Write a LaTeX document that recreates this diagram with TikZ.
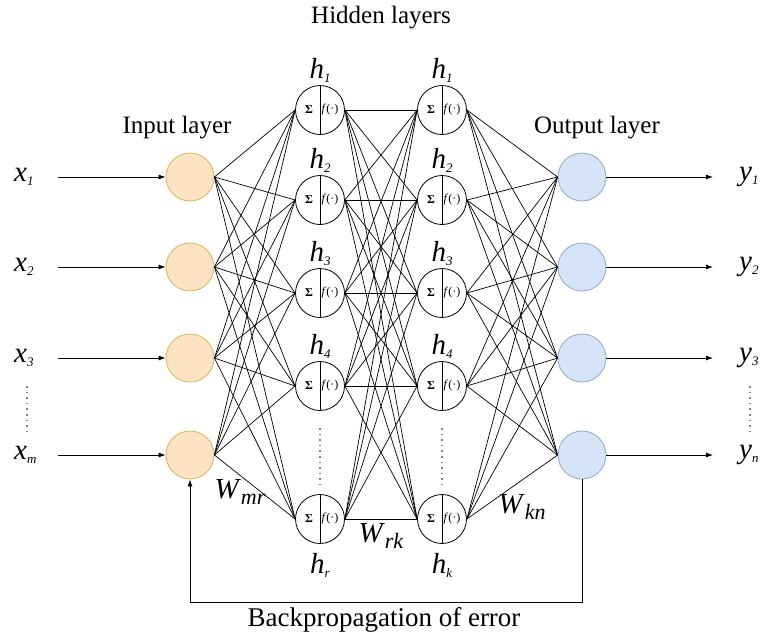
\documentclass[tikz,border=0pt]{standalone}
\usepackage{fontspec}
\setmainfont{Liberation Serif}[ItalicFont={Liberation Serif Italic},BoldFont={Liberation Serif Bold}]
\usetikzlibrary{arrows.meta}
\definecolor{infill}{HTML}{FCE3C3}
\definecolor{indraw}{HTML}{D6B656}
\definecolor{outfill}{HTML}{D6E4F8}
\definecolor{outdraw}{HTML}{8FA8CC}
\newcommand{\vlab}[2]{\textit{#1}\raisebox{-4pt}{\fontsize{13}{13}\selectfont\textit{#2}}}
\newcommand{\wlab}[2]{\textit{#1}\raisebox{-6pt}{\fontsize{22}{22}\selectfont\textit{#2}}}
\begin{document}
\begin{tikzpicture}[x=1pt,y=-1pt,
  inneuron/.style={circle,draw=indraw,fill=infill,minimum size=48pt,inner sep=0pt,line width=0.8pt},
  outneuron/.style={circle,draw=outdraw,fill=outfill,minimum size=48pt,inner sep=0pt,line width=0.8pt},
  hid/.style={circle,draw,minimum size=49pt,inner sep=0pt,line width=0.8pt},
  conn/.style={line width=0.7pt},
  arr/.style={line width=0.8pt,-{Latex[length=7pt,width=5pt]}},
  lbl/.style={font=\fontsize{25}{28}\selectfont,inner sep=0pt},
  var/.style={font=\fontsize{29}{30}\selectfont,inner sep=0pt},
  wvar/.style={font=\fontsize{29}{30}\selectfont,inner sep=0pt},
  sig/.style={font=\fontsize{12}{12}\selectfont\bfseries,inner sep=0pt},
  fun/.style={font=\fontsize{12}{12}\selectfont,inner sep=0pt},
  dots/.style={line width=1.6pt,dash pattern=on 1.6pt off 4pt,draw=gray}
]
\useasboundingbox (0,0) rectangle (761,633);

% input and output neurons
\foreach \i/\y in {1/177,2/267,3/358,4/455}{
  \node[inneuron] (in\i) at (190,\y) {};
  \node[outneuron] (out\i) at (582,\y) {};
}
% hidden neurons
\foreach \i/\y in {1/110,2/200,3/293,4/386,5/519}{
  \node[hid] (ha\i) at (320,\y) {};
  \node[hid] (hb\i) at (442,\y) {};
  \foreach \n in {ha,hb}{
    \draw[line width=0.7pt] (\n\i.north) -- (\n\i.south);
    \node[sig] (\n\i s) at ([xshift=-11pt]\n\i.center) {Σ};
    \node[fun] (\n\i f) at ([xshift=10pt]\n\i.center) {\textit{f}(·)};
  }
}
% connections
\foreach \i in {1,...,4}{
  \foreach \j in {1,...,5}{
    \draw[conn] (in\i.east) -- (ha\j.west);
    \draw[conn] (hb\j.east) -- (out\i.west);
  }
}
\foreach \i in {1,...,5}{
  \foreach \j in {1,...,5}{
    \draw[conn] (ha\i.east) -- (hb\j.west);
  }
}

% input arrows and labels
\foreach \i/\s in {1/1,2/2,3/3,4/m}{
  \coordinate (xs\i) at (58,0 |- in\i);
  \draw[arr] (xs\i) -- (in\i.west);
  \coordinate (ye\i) at (713,0 |- out\i);
  \draw[arr] (out\i.east) -- (ye\i);
}
\node[var,anchor=west] (x1) at (14,177) {\vlab{x}{1}};
\node[var,anchor=west] (x2) at (14,267) {\vlab{x}{2}};
\node[var,anchor=west] (x3) at (14,358) {\vlab{x}{3}};
\node[var,anchor=west] (xm) at (14,455) {\vlab{x}{m}};
\node[var,anchor=west] (y1) at (739,177) {\vlab{y}{1}};
\node[var,anchor=west] (y2) at (739,267) {\vlab{y}{2}};
\node[var,anchor=west] (y3) at (739,358) {\vlab{y}{3}};
\node[var,anchor=west] (yn) at (739,455) {\vlab{y}{n}};

% dots
\coordinate (dxa) at (27,386); \coordinate (dxb) at (27,432);
\draw[dots] (dxa) -- (dxb);
\coordinate (dya) at (750,386); \coordinate (dyb) at (750,432);
\draw[dots] (dya) -- (dyb);
\coordinate (dha) at (320,428); \coordinate (dhb) at (320,485);
\draw[dots] (dha) -- (dhb);
\coordinate (dhc) at (442,428); \coordinate (dhd) at (442,485);
\draw[dots] (dhc) -- (dhd);

% hidden labels
\foreach \i/\s in {1/1,2/2,3/3,4/4}{
  \node[var] (la\i) at ([yshift=40pt]ha\i.center) {\vlab{h}{\s}};
  \node[var] (lb\i) at ([yshift=40pt]hb\i.center) {\vlab{h}{\s}};
}
\node[var] (lar) at ([yshift=-46pt]ha5.center) {\vlab{h}{r}};
\node[var] (lbk) at ([yshift=-46pt]hb5.center) {\vlab{h}{k}};

% weights
\node[wvar] (wmr) at (240,492) {\wlab{W}{mr}};
\node[wvar] (wrk) at (381,536) {\wlab{W}{rk}};
\node[wvar] (wkn) at (522,507) {\wlab{W}{kn}};

% titles
\node[lbl] (thid) at (381,18) {Hidden layers};
\node[lbl] (tin) at (177,128) {Input layer};
\node[lbl] (tout) at (597,128) {Output layer};

% backpropagation
\coordinate (bpr) at (582,602);
\coordinate (bpl) at (190,602);
\draw[arr] (out4.south) -- (bpr) -- (bpl) -- (in4.south);
\node[lbl,font=\fontsize{27}{30}\selectfont] (tbp) at (384,620) {Backpropagation of error};
\end{tikzpicture}
\end{document}
